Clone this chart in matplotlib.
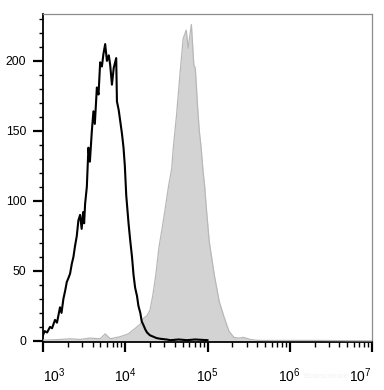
import numpy as np
import matplotlib
matplotlib.use("Agg")
import matplotlib.pyplot as plt
from matplotlib.ticker import FixedLocator, NullFormatter

plt.rcParams['font.family'] = ['Liberation Sans', 'DejaVu Sans']
plt.rcParams['mathtext.fontset'] = 'custom'
plt.rcParams['mathtext.rm'] = 'Liberation Sans'
plt.rcParams['mathtext.it'] = 'Liberation Sans'

# Control (unstained) histogram: fluorescence intensity, count
ctrl_x = [1000, 1047, 1122, 1216, 1288, 1400, 1479, 1610, 1679, 1770, 1862, 1945,
          2042, 2133, 2239, 2344, 2455, 2576, 2692, 2825, 2951, 3076, 3162, 3251,
          3412, 3565, 3715, 3926, 4102, 4266, 4519, 4732, 4955, 5200, 5433, 5702,
          5984, 6310, 6561, 6887, 7244, 7762, 7925, 8318, 8690, 9120, 9528, 9886,
          10280, 10965, 11482, 12078, 12618, 13183, 13900, 14454, 15240, 15850,
          16710, 17580, 18400, 19950, 21930, 23990, 26730, 31620, 35480, 44670,
          56230, 70790, 100000]
ctrl_y = [4, 7, 6, 10, 9, 15, 13, 24, 20, 30, 36, 42,
          45, 48, 55, 60, 68, 75, 86, 90, 80, 92, 84, 98,
          110, 138, 128, 150, 164, 155, 181, 176, 199, 196, 205, 212,
          200, 204, 197, 183, 195, 202, 171, 165, 157, 148, 138, 125,
          104, 84, 72, 60, 47, 38, 32, 25, 20, 14,
          11, 8, 6, 4, 3, 2, 1.5, 1, 0.5, 1,
          0.5, 1, 0.5]

# Stained sample histogram
stain_x = [1000, 1620, 2140, 2820, 3720, 4950, 5700, 6560, 8710, 10900, 13250,
           15240, 16600, 18400, 20000, 21700, 23500, 25700, 28200, 30700, 33700,
           36700, 38400, 42000, 46200, 50600, 55200, 58100, 63700, 68200, 71000,
           72800, 76000, 79500, 83700, 88000, 92500, 96700, 105000, 121000, 139000,
           159000, 182000, 209000, 240000, 274000, 331000, 384000, 460000,
           1000000, 2300000, 10000000]
stain_y = [0.5, 1, 1.5, 1, 2, 1.5, 5, 1.5, 3, 5, 9,
           12, 16, 18, 22, 33, 47, 67, 81, 95, 111,
           123, 138, 161, 190, 216, 222, 209, 226, 197, 195,
           185, 166, 150, 138, 122, 110, 95, 71, 47, 28,
           17, 7, 2.5, 2, 2.5, 1, 0.5, 0.3,
           0.3, 0.3, 0]

ytick_vals = [0, 50, 100, 150, 200]
xtick_labels = ['$10^{3}$', '$10^{4}$', '$10^{5}$', '$10^{6}$', '$10^{7}$']

fig = plt.figure(figsize=(3.84, 3.90), dpi=100)
ax = fig.add_axes([43/384, 48/390, (372-43)/384, (342-14)/390])

ax.fill_between(stain_x, stain_y, 0, color='#d3d3d3', linewidth=0, zorder=2)
ax.plot(stain_x, stain_y, color='#b8b8b8', linewidth=0.9, zorder=3)
ax.plot(ctrl_x, ctrl_y, color='black', linewidth=1.5, zorder=4)

ax.set_xscale('log')
ax.set_xlim(1e3, 1e7)
ax.set_ylim(-0.8, 233.5)

major_x = [1e3, 1e4, 1e5, 1e6, 1e7]
ax.xaxis.set_major_locator(FixedLocator(major_x))
minor_x = [m * 10**e for e in range(3, 7) for m in range(2, 10)]
ax.xaxis.set_minor_locator(FixedLocator(minor_x))
ax.xaxis.set_minor_formatter(NullFormatter())
ax.set_xticklabels(xtick_labels)
labs = ax.get_xticklabels()
labs[0].set_horizontalalignment('left')
labs[-1].set_horizontalalignment('right')

ax.yaxis.set_major_locator(FixedLocator(ytick_vals))
ax.yaxis.set_minor_locator(FixedLocator(list(range(0, 240, 10))))
ax.set_yticklabels([str(v) for v in ytick_vals])

ax.tick_params(axis='x', which='major', length=7.5, width=1.6, direction='out',
               labelsize=10, pad=10, colors='black')
ax.tick_params(axis='x', which='minor', length=3.5, width=1.0, direction='out')
ax.tick_params(axis='y', which='major', length=7, width=1.6, direction='out',
               labelsize=8.8, pad=5, colors='black')
ax.tick_params(axis='y', which='minor', length=3, width=1.0, direction='out')

for s in ['left', 'bottom']:
    ax.spines[s].set_color('black')
    ax.spines[s].set_linewidth(1.3)
for s in ['top', 'right']:
    ax.spines[s].set_color('#8c8c8c')
    ax.spines[s].set_linewidth(0.9)

fig.text(326/384, 1 - 376/390, 'Elabscience', fontsize=6, color='#f2f2f2',
         ha='center', va='center')

fig.savefig('out.png', dpi=100)
